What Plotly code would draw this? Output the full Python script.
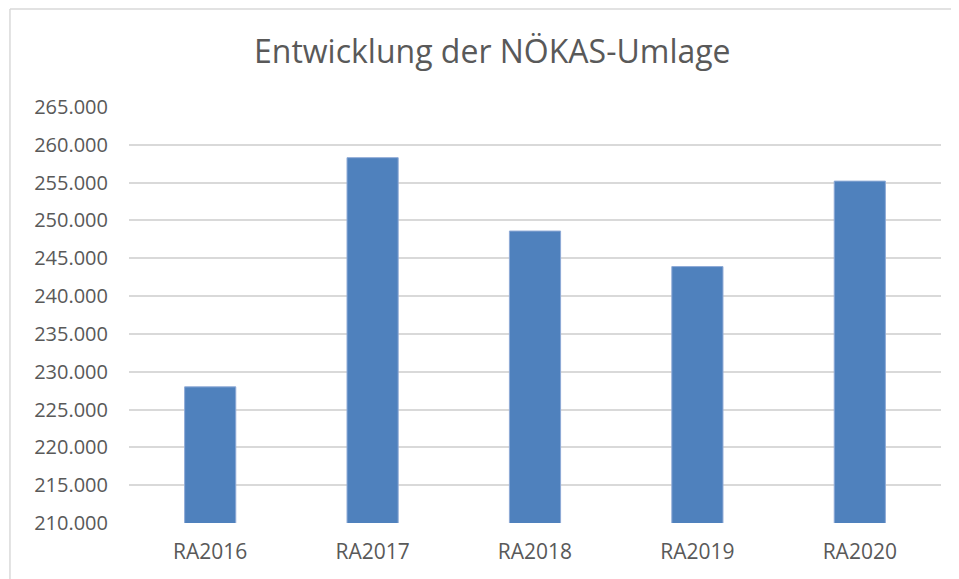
import plotly.graph_objects as go

# Daten
jahre = ['RA2016', 'RA2017', 'RA2018', 'RA2019', 'RA2020']
umlage = [228000, 258300, 248600, 243900, 255200]

BAR_COLOR = '#4f81bd'
GRID_COLOR = '#d9d9d9'
TEXT_COLOR = '#595959'

fig = go.Figure(go.Bar(
    x=jahre, y=umlage,
    marker=dict(color=BAR_COLOR, line=dict(color='#8eaad6', width=1)),
))

# Seite hat 8px Rand -> Ränder entsprechend verschoben
fig.update_layout(
    width=959, height=579,
    margin=dict(l=121, r=26, t=99, b=64),
    paper_bgcolor='white', plot_bgcolor='white',
    separators=',.',
    bargap=0.685,
    showlegend=False,
    font=dict(family='Open Sans', color=TEXT_COLOR, size=20),
    title=dict(text='Entwicklung der NÖKAS-Umlage', x=0.505, xanchor='center',
               y=0.925, yanchor='middle',
               font=dict(family='Open Sans', size=32, color=TEXT_COLOR)),
)
fig.update_yaxes(range=[210000, 265000], dtick=5000, tickformat=',d',
                 showgrid=True, gridcolor=GRID_COLOR, gridwidth=1.5,
                 zeroline=False, showline=False, ticklabelstandoff=20,
                 tickfont=dict(size=20))
fig.update_xaxes(showgrid=False, showline=False, ticklabelstandoff=14,
                 tickfont=dict(size=21))

# Rahmen links/oben (Diagrammkante)
fig.add_shape(type='line', xref='paper', yref='paper', x0=-0.1466, x1=-0.1466,
              y0=-0.3, y1=1.2356, line=dict(color='#d9d9d9', width=1.5))
fig.add_shape(type='line', xref='paper', yref='paper', x0=-0.1466, x1=1.1,
              y0=1.2356, y1=1.2356, line=dict(color='#d9d9d9', width=1.5))

fig.write_html("out.html")
